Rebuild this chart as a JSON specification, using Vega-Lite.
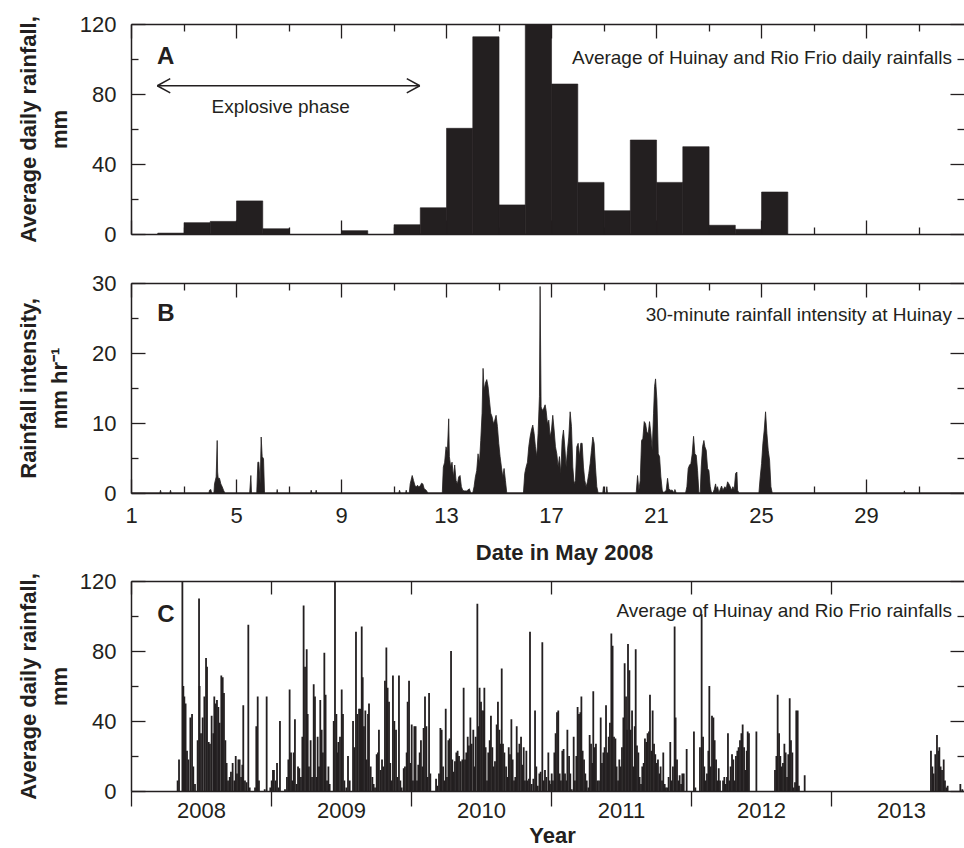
{
"$schema":"https://vega.github.io/schema/vega-lite/v6.json",
"background":"white",
"padding":{"left":16,"top":13,"right":0,"bottom":0},
"config":{"view":{"stroke":null},
"axis":{"grid":false,"domainColor":"#231f20","domainWidth":1.5,"tickColor":"#231f20","tickWidth":1.3,"labelColor":"#231f20","titleColor":"#231f20","labelFont":"Liberation Sans","labelFontSize":22,"titleFont":"Liberation Sans","titleFontSize":22,"titleFontWeight":"bold","labelOverlap":false,"labelFlush":false,"labelBound":false}},
"spacing":7,
"vconcat":[
{"spacing":27,"vconcat":[
{"width":833,"height":210,
"data":{"values":[{"day":2,"mm":0.5},{"day":3,"mm":6.5},{"day":4,"mm":7.2},{"day":5,"mm":18.9},{"day":6,"mm":3.0},{"day":9,"mm":1.9},{"day":11,"mm":5.3},{"day":12,"mm":15},{"day":13,"mm":60.4},{"day":14,"mm":112.7},{"day":15,"mm":16.6},{"day":16,"mm":130},{"day":17,"mm":85.7},{"day":18,"mm":29.5},{"day":19,"mm":13.3},{"day":20,"mm":53.7},{"day":21,"mm":29.5},{"day":22,"mm":49.9},{"day":23,"mm":5.0},{"day":24,"mm":2.7},{"day":25,"mm":24}]},
"resolve":{"axis":{"x":"independent","y":"independent"}},
"layer":[
{"mark":{"type":"bar","color":"#231f20","stroke":"#231f20","strokeWidth":0.6,"binSpacing":0,"clip":true},
"encoding":{"x":{"field":"day","type":"quantitative","bin":{"step":1,"extent":[1,33]},"scale":{"domain":[1,32.73],"nice":false,"zero":false},"axis":{"orient":"bottom","values":[1,5,9,13,17,21,25,29],"labels":false,"tickSize":-14,"title":null}},
"y":{"field":"mm","type":"quantitative","scale":{"domain":[0,120],"nice":false},"axis":{"orient":"left","values":[0,40,80,120],"tickSize":-14,"labelPadding":29,"title":["Average daily rainfall,","mm"],"titleX":-96,"titleY":105,"titleBaseline":"alphabetic","titleAlign":"center","titleAngle":-90,"titleLineHeight":31}}}},
{"mark":{"type":"point","opacity":0,"clip":true},
"encoding":{"x":{"field":"day","type":"quantitative","scale":{"domain":[1,32.73],"nice":false,"zero":false},"axis":{"orient":"top","values":[1,5,9,13,17,21,25,29],"labels":false,"tickSize":-14,"title":null}},
"y":{"field":"mm","type":"quantitative","scale":{"domain":[0,120],"nice":false},"axis":{"orient":"right","values":[0,40,80,120],"labels":false,"domain":false,"tickSize":-14,"title":null}}}},
{"mark":{"type":"point","opacity":0,"clip":true},
"encoding":{"x":{"field":"day","type":"quantitative","scale":{"domain":[1,32.73],"nice":false,"zero":false},"axis":{"orient":"bottom","values":[3,7,11,15,19,23,27,31],"labels":false,"domain":false,"tickSize":-7,"title":null}},
"y":{"field":"mm","type":"quantitative","scale":{"domain":[0,120],"nice":false},"axis":{"orient":"left","values":[20,60,100],"labels":false,"domain":false,"tickSize":-7,"title":null}}}},
{"mark":{"type":"point","opacity":0,"clip":true},
"encoding":{"x":{"field":"day","type":"quantitative","scale":{"domain":[1,32.73],"nice":false,"zero":false},"axis":{"orient":"top","values":[3,7,11,15,19,23,27,31],"labels":false,"domain":false,"tickSize":-7,"title":null}},
"y":{"field":"mm","type":"quantitative","scale":{"domain":[0,120],"nice":false},"axis":{"orient":"right","values":[20,60,100],"labels":false,"domain":false,"tickSize":-7,"title":null}}}},
{"data":{"values":[{"start":2,"end":12,"y":84.7}]},
"mark":{"type":"rule","color":"#231f20","strokeWidth":1.5},
"encoding":{"x":{"field":"start","type":"quantitative","scale":{"domain":[1,32.73],"nice":false,"zero":false},"axis":null},"x2":{"field":"end"},"y":{"field":"y","type":"quantitative","scale":{"domain":[0,120],"nice":false},"axis":null}}},
{"data":{"values":[{"x":2,"y":84.7,"dir":"left"},{"x":12,"y":84.7,"dir":"right"}]},
"mark":{"type":"point","filled":false,"stroke":"#231f20","strokeWidth":1.5,"size":676,"opacity":1},
"encoding":{"x":{"field":"x","type":"quantitative","scale":{"domain":[1,32.73],"nice":false,"zero":false},"axis":null},"y":{"field":"y","type":"quantitative","scale":{"domain":[0,120],"nice":false},"axis":null},
"shape":{"field":"dir","type":"nominal","scale":{"domain":["left","right"],"range":["M0,0L1,-0.55M0,0L1,0.55","M0,0L-1,-0.55M0,0L-1,0.55"]},"legend":null}}},
{"data":{"values":[{"x":1.99,"y":100.9,"label":"A"}]},
"mark":{"type":"text","font":"Liberation Sans","fontSize":24,"fontWeight":"bold","color":"#231f20","align":"left","baseline":"middle"},
"encoding":{"x":{"field":"x","type":"quantitative","scale":{"domain":[1,32.73],"nice":false,"zero":false},"axis":null},"y":{"field":"y","type":"quantitative","scale":{"domain":[0,120],"nice":false},"axis":null},"text":{"field":"label"}}},
{"data":{"values":[{"x":6.7,"y":72.6,"label":"Explosive phase"}]},
"mark":{"type":"text","font":"Liberation Sans","fontSize":19,"color":"#231f20","align":"center","baseline":"middle"},
"encoding":{"x":{"field":"x","type":"quantitative","scale":{"domain":[1,32.73],"nice":false,"zero":false},"axis":null},"y":{"field":"y","type":"quantitative","scale":{"domain":[0,120],"nice":false},"axis":null},"text":{"field":"label"}}},
{"data":{"values":[{"x":32.27,"y":100.5,"label":"Average of Huinay and Rio Frio daily rainfalls"}]},
"mark":{"type":"text","font":"Liberation Sans","fontSize":19,"color":"#231f20","align":"right","baseline":"middle"},
"encoding":{"x":{"field":"x","type":"quantitative","scale":{"domain":[1,32.73],"nice":false,"zero":false},"axis":null},"y":{"field":"y","type":"quantitative","scale":{"domain":[0,120],"nice":false},"axis":null},"text":{"field":"label"}}}
]},
{"width":833,"height":210,
"data":{"values":[{"day":1,"v":0},{"day":2.1,"v":0},{"day":2.124,"v":0.4},{"day":2.15,"v":0},{"day":2.48,"v":0},{"day":2.505,"v":0.4},{"day":2.53,"v":0},{"day":3.97,"v":0},{"day":3.99,"v":0.4},{"day":4.04,"v":0.5},{"day":4.07,"v":0},{"day":4.16,"v":0},{"day":4.181,"v":1.3},{"day":4.244,"v":2.3},{"day":4.283,"v":7.5},{"day":4.3,"v":3.0},{"day":4.321,"v":2.1},{"day":4.371,"v":2.1},{"day":4.422,"v":1.3},{"day":4.473,"v":0.9},{"day":4.524,"v":0.4},{"day":4.575,"v":0},{"day":5.52,"v":0},{"day":5.565,"v":2.5},{"day":5.59,"v":0},{"day":5.79,"v":0},{"day":5.832,"v":4.4},{"day":5.87,"v":4.4},{"day":5.921,"v":1.3},{"day":5.959,"v":8.0},{"day":5.997,"v":5.2},{"day":6.048,"v":4.9},{"day":6.086,"v":0},{"day":6.55,"v":0},{"day":6.568,"v":0.5},{"day":6.59,"v":0},{"day":7.84,"v":0},{"day":7.863,"v":0.4},{"day":7.89,"v":0},{"day":8.03,"v":0},{"day":8.054,"v":0.4},{"day":8.08,"v":0},{"day":11.2,"v":0},{"day":11.229,"v":0.4},{"day":11.26,"v":0},{"day":11.46,"v":0},{"day":11.483,"v":0.4},{"day":11.51,"v":0},{"day":11.6,"v":0},{"day":11.635,"v":1.3},{"day":11.711,"v":2.5},{"day":11.762,"v":1.8},{"day":11.813,"v":1.1},{"day":11.863,"v":0.9},{"day":11.914,"v":1.1},{"day":11.965,"v":0.9},{"day":12.016,"v":1.0},{"day":12.067,"v":1.4},{"day":12.117,"v":1.3},{"day":12.168,"v":0.6},{"day":12.244,"v":0.4},{"day":12.308,"v":0},
{"day":12.858,"v":0},{"day":12.897,"v":3.7},{"day":12.948,"v":4.4},{"day":13.0,"v":6.6},{"day":13.051,"v":5.9},{"day":13.102,"v":10.6},{"day":13.127,"v":5.2},{"day":13.178,"v":3.7},{"day":13.229,"v":4.4},{"day":13.28,"v":2.3},{"day":13.33,"v":4.0},{"day":13.381,"v":1.8},{"day":13.432,"v":1.3},{"day":13.483,"v":2.3},{"day":13.534,"v":2.5},{"day":13.584,"v":0.9},{"day":13.635,"v":0.4},{"day":13.686,"v":0.3},{"day":13.788,"v":0.3},{"day":13.89,"v":0.6},{"day":13.94,"v":0},
{"day":14.017,"v":0},{"day":14.068,"v":0.9},{"day":14.118,"v":2.3},{"day":14.169,"v":3.2},{"day":14.22,"v":5.6},{"day":14.271,"v":4.2},{"day":14.322,"v":7.5},{"day":14.373,"v":11.4},{"day":14.411,"v":17.8},{"day":14.449,"v":14.7},{"day":14.5,"v":15.7},{"day":14.551,"v":16.2},{"day":14.601,"v":15.2},{"day":14.652,"v":13.3},{"day":14.703,"v":11.4},{"day":14.754,"v":10.9},{"day":14.805,"v":9.9},{"day":14.856,"v":10.4},{"day":14.906,"v":11.1},{"day":14.957,"v":9.5},{"day":15.008,"v":7.1},{"day":15.059,"v":5.2},{"day":15.11,"v":3.7},{"day":15.16,"v":2.3},{"day":15.211,"v":3.5},{"day":15.262,"v":1.8},{"day":15.313,"v":0},
{"day":15.948,"v":0},{"day":15.999,"v":2.8},{"day":16.05,"v":3.7},{"day":16.101,"v":4.4},{"day":16.151,"v":6.6},{"day":16.202,"v":8.0},{"day":16.253,"v":9.0},{"day":16.304,"v":9.7},{"day":16.355,"v":8.5},{"day":16.405,"v":6.6},{"day":16.456,"v":5.2},{"day":16.507,"v":8.5},{"day":16.558,"v":13.8},{"day":16.583,"v":29.5},{"day":16.621,"v":12.3},{"day":16.672,"v":11.8},{"day":16.723,"v":12.1},{"day":16.774,"v":12.6},{"day":16.812,"v":11.8},{"day":16.863,"v":9.9},{"day":16.914,"v":10.4},{"day":16.965,"v":8.0},{"day":17.016,"v":9.0},{"day":17.066,"v":11.1},{"day":17.117,"v":9.0},{"day":17.168,"v":6.6},{"day":17.219,"v":5.6},{"day":17.27,"v":3.7},{"day":17.32,"v":5.2},{"day":17.371,"v":2.8},{"day":17.422,"v":7.5},{"day":17.473,"v":9.0},{"day":17.524,"v":6.6},{"day":17.574,"v":3.7},{"day":17.625,"v":6.1},{"day":17.676,"v":8.0},{"day":17.727,"v":11.6},{"day":17.778,"v":9.5},{"day":17.829,"v":3.7},{"day":17.879,"v":1.3},{"day":17.93,"v":1.8},{"day":17.981,"v":6.6},{"day":18.032,"v":7.1},{"day":18.083,"v":5.2},{"day":18.133,"v":7.1},{"day":18.184,"v":7.1},{"day":18.235,"v":3.7},{"day":18.286,"v":1.8},{"day":18.337,"v":0.9},{"day":18.387,"v":1.6},{"day":18.438,"v":2.8},{"day":18.489,"v":4.2},{"day":18.54,"v":6.1},{"day":18.591,"v":8.0},{"day":18.641,"v":7.1},{"day":18.692,"v":3.7},{"day":18.743,"v":0.9},{"day":18.794,"v":0},
{"day":18.97,"v":0},{"day":18.997,"v":0.9},{"day":19.02,"v":0},{"day":19.1,"v":0},{"day":19.124,"v":0.9},{"day":19.15,"v":0},
{"day":20.244,"v":0},{"day":20.295,"v":2.5},{"day":20.346,"v":0.4},{"day":20.397,"v":1.8},{"day":20.448,"v":7.5},{"day":20.498,"v":7.8},{"day":20.549,"v":10.2},{"day":20.6,"v":9.9},{"day":20.651,"v":8.7},{"day":20.702,"v":8.5},{"day":20.752,"v":10.2},{"day":20.803,"v":8.5},{"day":20.854,"v":6.1},{"day":20.905,"v":11.4},{"day":20.943,"v":15.2},{"day":20.981,"v":16.3},{"day":21.032,"v":13.3},{"day":21.083,"v":5.6},{"day":21.133,"v":5.2},{"day":21.184,"v":2.3},{"day":21.235,"v":0.4},{"day":21.286,"v":0},{"day":21.387,"v":0.4},{"day":21.438,"v":2.1},{"day":21.489,"v":0.6},{"day":21.54,"v":0.4},{"day":21.616,"v":0.4},{"day":21.692,"v":0},{"day":21.717,"v":0.5},{"day":21.768,"v":0},
{"day":22.124,"v":0},{"day":22.175,"v":0.9},{"day":22.225,"v":3.5},{"day":22.276,"v":4.0},{"day":22.327,"v":4.2},{"day":22.378,"v":5.6},{"day":22.429,"v":8.1},{"day":22.479,"v":5.6},{"day":22.53,"v":5.4},{"day":22.581,"v":3.2},{"day":22.632,"v":0},{"day":22.683,"v":0},{"day":22.721,"v":3.7},{"day":22.771,"v":6.6},{"day":22.822,"v":7.5},{"day":22.86,"v":6.6},{"day":22.911,"v":6.1},{"day":22.962,"v":3.5},{"day":23.013,"v":3.2},{"day":23.063,"v":0.9},{"day":23.114,"v":0},{"day":23.165,"v":0},{"day":23.216,"v":0.5},{"day":23.267,"v":1.3},{"day":23.305,"v":0.5},{"day":23.343,"v":0.9},{"day":23.394,"v":0},{"day":23.495,"v":1.0},{"day":23.546,"v":0.4},{"day":23.622,"v":0.9},{"day":23.673,"v":0.6},{"day":23.724,"v":1.6},{"day":23.775,"v":1.3},{"day":23.825,"v":0.9},{"day":23.876,"v":0.4},{"day":23.927,"v":0.9},{"day":23.978,"v":0.5},{"day":24.029,"v":2.8},{"day":24.079,"v":3.0},{"day":24.105,"v":0.4},{"day":24.156,"v":0},
{"day":24.918,"v":0},{"day":24.968,"v":2.3},{"day":25.019,"v":4.2},{"day":25.07,"v":7.1},{"day":25.121,"v":9.0},{"day":25.171,"v":11.6},{"day":25.222,"v":8.5},{"day":25.273,"v":6.1},{"day":25.324,"v":4.7},{"day":25.375,"v":0.9},{"day":25.425,"v":0},{"day":30.44,"v":0},{"day":30.46,"v":0.3},{"day":30.48,"v":0},{"day":32.73,"v":0}]},
"resolve":{"axis":{"x":"independent","y":"independent"}},
"layer":[
{"mark":{"type":"area","color":"#231f20","stroke":"#231f20","strokeWidth":0.8,"interpolate":"linear","clip":true},
"encoding":{"x":{"field":"day","type":"quantitative","scale":{"domain":[1,32.73],"nice":false,"zero":false},"axis":{"orient":"bottom","values":[1,5,9,13,17,21,25,29],"tickSize":-14,"labelPadding":26,"title":"Date in May 2008","titleX":433,"titleY":66,"titleBaseline":"alphabetic","titleAlign":"center"}},
"y":{"field":"v","type":"quantitative","scale":{"domain":[0,30],"nice":false},"axis":{"orient":"left","values":[0,10,20,30],"tickSize":-14,"labelPadding":29,"title":["Rainfall intensity,","mm hr⁻¹"],"titleX":-96,"titleY":105,"titleBaseline":"alphabetic","titleAlign":"center","titleAngle":-90,"titleLineHeight":31}}}},
{"mark":{"type":"point","opacity":0,"clip":true},
"encoding":{"x":{"field":"day","type":"quantitative","scale":{"domain":[1,32.73],"nice":false,"zero":false},"axis":{"orient":"top","values":[1,5,9,13,17,21,25,29],"labels":false,"tickSize":-14,"title":null}},
"y":{"field":"v","type":"quantitative","scale":{"domain":[0,30],"nice":false},"axis":{"orient":"right","values":[0,10,20,30],"labels":false,"domain":false,"tickSize":-14,"title":null}}}},
{"mark":{"type":"point","opacity":0,"clip":true},
"encoding":{"x":{"field":"day","type":"quantitative","scale":{"domain":[1,32.73],"nice":false,"zero":false},"axis":{"orient":"bottom","values":[3,7,11,15,19,23,27,31],"labels":false,"domain":false,"tickSize":-7,"title":null}},
"y":{"field":"v","type":"quantitative","scale":{"domain":[0,30],"nice":false},"axis":{"orient":"left","values":[5,15,25],"labels":false,"domain":false,"tickSize":-7,"title":null}}}},
{"mark":{"type":"point","opacity":0,"clip":true},
"encoding":{"x":{"field":"day","type":"quantitative","scale":{"domain":[1,32.73],"nice":false,"zero":false},"axis":{"orient":"top","values":[3,7,11,15,19,23,27,31],"labels":false,"domain":false,"tickSize":-7,"title":null}},
"y":{"field":"v","type":"quantitative","scale":{"domain":[0,30],"nice":false},"axis":{"orient":"right","values":[5,15,25],"labels":false,"domain":false,"tickSize":-7,"title":null}}}},
{"data":{"values":[{"x":2.0,"y":25.6,"label":"B"}]},
"mark":{"type":"text","font":"Liberation Sans","fontSize":24,"fontWeight":"bold","color":"#231f20","align":"left","baseline":"middle"},
"encoding":{"x":{"field":"x","type":"quantitative","scale":{"domain":[1,32.73],"nice":false,"zero":false},"axis":null},"y":{"field":"y","type":"quantitative","scale":{"domain":[0,30],"nice":false},"axis":null},"text":{"field":"label"}}},
{"data":{"values":[{"x":32.27,"y":25.5,"label":"30-minute rainfall intensity at Huinay"}]},
"mark":{"type":"text","font":"Liberation Sans","fontSize":19,"color":"#231f20","align":"right","baseline":"middle"},
"encoding":{"x":{"field":"x","type":"quantitative","scale":{"domain":[1,32.73],"nice":false,"zero":false},"axis":null},"y":{"field":"y","type":"quantitative","scale":{"domain":[0,30],"nice":false},"axis":null},"text":{"field":"label"}}}
]}
]},
{"width":833,"height":210,
"data":{"values":[
{"t":2008.333,"mm":6},{"t":2008.343,"mm":18},{"t":2008.367,"mm":125},{"t":2008.374,"mm":60},{"t":2008.381,"mm":54},{"t":2008.39,"mm":50},{"t":2008.4,"mm":23},{"t":2008.41,"mm":18},{"t":2008.424,"mm":42},{"t":2008.436,"mm":44},{"t":2008.445,"mm":14},{"t":2008.457,"mm":4},{"t":2008.476,"mm":29},{"t":2008.486,"mm":110},{"t":2008.49,"mm":60},{"t":2008.5,"mm":33},{"t":2008.512,"mm":42},{"t":2008.524,"mm":54},{"t":2008.536,"mm":76},{"t":2008.543,"mm":71},{"t":2008.555,"mm":28},{"t":2008.564,"mm":27},{"t":2008.576,"mm":43},{"t":2008.588,"mm":33},{"t":2008.595,"mm":54},{"t":2008.605,"mm":50},{"t":2008.614,"mm":52},{"t":2008.624,"mm":48},{"t":2008.633,"mm":39},{"t":2008.645,"mm":66},{"t":2008.655,"mm":65},{"t":2008.664,"mm":56},{"t":2008.674,"mm":29},{"t":2008.683,"mm":16},{"t":2008.693,"mm":6},{"t":2008.705,"mm":8},{"t":2008.714,"mm":11},{"t":2008.726,"mm":16},{"t":2008.738,"mm":6},{"t":2008.748,"mm":20},{"t":2008.757,"mm":10},{"t":2008.767,"mm":18},{"t":2008.776,"mm":18},{"t":2008.786,"mm":8},{"t":2008.795,"mm":15},{"t":2008.802,"mm":49},{"t":2008.814,"mm":6},{"t":2008.826,"mm":5},{"t":2008.838,"mm":95},{"t":2008.848,"mm":2},{"t":2008.886,"mm":2},{"t":2008.895,"mm":37},{"t":2008.905,"mm":54},{"t":2008.914,"mm":6},{"t":2008.955,"mm":1},{"t":2008.969,"mm":54},{"t":2008.995,"mm":2},
{"t":2009.005,"mm":6},{"t":2009.014,"mm":12},{"t":2009.021,"mm":12},{"t":2009.033,"mm":6},{"t":2009.043,"mm":16},{"t":2009.055,"mm":2},{"t":2009.064,"mm":40},{"t":2009.1,"mm":1},{"t":2009.114,"mm":8},{"t":2009.124,"mm":18},{"t":2009.133,"mm":58},{"t":2009.143,"mm":22},{"t":2009.152,"mm":6},{"t":2009.162,"mm":22},{"t":2009.171,"mm":41},{"t":2009.183,"mm":4},{"t":2009.193,"mm":14},{"t":2009.202,"mm":13},{"t":2009.214,"mm":8},{"t":2009.224,"mm":31},{"t":2009.233,"mm":106},{"t":2009.243,"mm":71},{"t":2009.255,"mm":81},{"t":2009.262,"mm":44},{"t":2009.271,"mm":14},{"t":2009.283,"mm":29},{"t":2009.293,"mm":8},{"t":2009.305,"mm":61},{"t":2009.314,"mm":54},{"t":2009.324,"mm":8},{"t":2009.333,"mm":31},{"t":2009.343,"mm":14},{"t":2009.352,"mm":52},{"t":2009.362,"mm":35},{"t":2009.371,"mm":22},{"t":2009.381,"mm":79},{"t":2009.39,"mm":55},{"t":2009.4,"mm":6},{"t":2009.41,"mm":14},{"t":2009.419,"mm":4},{"t":2009.448,"mm":40},{"t":2009.457,"mm":122},{"t":2009.467,"mm":44},{"t":2009.476,"mm":22},
{"t":2009.481,"mm":28},{"t":2009.493,"mm":31},{"t":2009.505,"mm":58},{"t":2009.514,"mm":44},{"t":2009.524,"mm":6},{"t":2009.538,"mm":2},{"t":2009.55,"mm":20},{"t":2009.562,"mm":6},{"t":2009.586,"mm":40},{"t":2009.595,"mm":25},{"t":2009.607,"mm":91},{"t":2009.617,"mm":44},{"t":2009.629,"mm":47},{"t":2009.638,"mm":47},{"t":2009.648,"mm":94},{"t":2009.655,"mm":65},{"t":2009.664,"mm":37},{"t":2009.674,"mm":46},{"t":2009.683,"mm":18},{"t":2009.693,"mm":44},{"t":2009.7,"mm":50},{"t":2009.712,"mm":14},{"t":2009.724,"mm":8},{"t":2009.733,"mm":4},{"t":2009.743,"mm":2},{"t":2009.755,"mm":21},{"t":2009.764,"mm":22},{"t":2009.771,"mm":35},{"t":2009.783,"mm":12},{"t":2009.793,"mm":18},{"t":2009.802,"mm":14},{"t":2009.814,"mm":63},{"t":2009.824,"mm":82},{"t":2009.833,"mm":59},{"t":2009.843,"mm":51},{"t":2009.852,"mm":16},{"t":2009.862,"mm":6},{"t":2009.871,"mm":66},{"t":2009.881,"mm":40},{"t":2009.893,"mm":35},{"t":2009.902,"mm":8},{"t":2009.914,"mm":66},{"t":2009.924,"mm":6},{"t":2009.933,"mm":2},{"t":2009.948,"mm":13},{"t":2009.957,"mm":14},{"t":2009.969,"mm":22},{"t":2009.976,"mm":51},{"t":2009.986,"mm":63},{"t":2009.995,"mm":16},
{"t":2010.005,"mm":38},{"t":2010.014,"mm":6},{"t":2010.024,"mm":37},{"t":2010.033,"mm":37},{"t":2010.043,"mm":6},{"t":2010.052,"mm":15},{"t":2010.062,"mm":22},{"t":2010.071,"mm":29},{"t":2010.081,"mm":14},{"t":2010.09,"mm":36},{"t":2010.1,"mm":54},{"t":2010.11,"mm":37},{"t":2010.119,"mm":8},{"t":2010.129,"mm":56},{"t":2010.138,"mm":10},{"t":2010.179,"mm":7},{"t":2010.188,"mm":3},{"t":2010.2,"mm":10},{"t":2010.21,"mm":36},{"t":2010.219,"mm":35},{"t":2010.229,"mm":14},{"t":2010.238,"mm":6},{"t":2010.248,"mm":47},{"t":2010.257,"mm":8},{"t":2010.267,"mm":29},{"t":2010.276,"mm":30},{"t":2010.286,"mm":80},{"t":2010.295,"mm":18},{"t":2010.305,"mm":11},{"t":2010.314,"mm":17},{"t":2010.324,"mm":22},{"t":2010.333,"mm":23},{"t":2010.343,"mm":20},{"t":2010.355,"mm":17},{"t":2010.367,"mm":18},{"t":2010.376,"mm":59},{"t":2010.386,"mm":18},{"t":2010.395,"mm":22},{"t":2010.405,"mm":31},{"t":2010.414,"mm":26},{"t":2010.424,"mm":42},{"t":2010.433,"mm":27},{"t":2010.445,"mm":35},{"t":2010.455,"mm":14},{"t":2010.462,"mm":31},{"t":2010.474,"mm":107},{"t":2010.481,"mm":37},{"t":2010.49,"mm":59},{"t":2010.5,"mm":51},{"t":2010.507,"mm":46},{"t":2010.517,"mm":46},{"t":2010.524,"mm":59},{"t":2010.533,"mm":25},{"t":2010.543,"mm":6},{"t":2010.552,"mm":22},{"t":2010.562,"mm":29},{"t":2010.571,"mm":43},{"t":2010.581,"mm":25},{"t":2010.59,"mm":14},{"t":2010.6,"mm":17},{"t":2010.612,"mm":38},{"t":2010.621,"mm":51},{"t":2010.631,"mm":35},{"t":2010.64,"mm":27},{"t":2010.648,"mm":70},{"t":2010.657,"mm":27},{"t":2010.667,"mm":22},{"t":2010.679,"mm":14},{"t":2010.688,"mm":8},{"t":2010.698,"mm":25},{"t":2010.707,"mm":21},{"t":2010.717,"mm":41},{"t":2010.726,"mm":18},{"t":2010.736,"mm":6},{"t":2010.745,"mm":8},{"t":2010.755,"mm":37},{"t":2010.764,"mm":22},{"t":2010.774,"mm":27},{"t":2010.786,"mm":31},{"t":2010.795,"mm":15},{"t":2010.805,"mm":25},{"t":2010.814,"mm":6},{"t":2010.824,"mm":23},{"t":2010.833,"mm":6},{"t":2010.843,"mm":7},{"t":2010.85,"mm":91},{"t":2010.862,"mm":4},{"t":2010.874,"mm":7},{"t":2010.886,"mm":46},{"t":2010.895,"mm":14},{"t":2010.905,"mm":3},{"t":2010.917,"mm":10},{"t":2010.926,"mm":11},{"t":2010.938,"mm":85},{"t":2010.948,"mm":6},{"t":2010.957,"mm":12},{"t":2010.967,"mm":8},{"t":2010.981,"mm":22},{"t":2010.99,"mm":6},{"t":2010.993,"mm":4},
{"t":2011.005,"mm":10},{"t":2011.014,"mm":6},{"t":2011.024,"mm":22},{"t":2011.033,"mm":33},{"t":2011.043,"mm":45},{"t":2011.052,"mm":46},{"t":2011.062,"mm":10},{"t":2011.071,"mm":6},{"t":2011.081,"mm":23},{"t":2011.09,"mm":24},{"t":2011.1,"mm":10},{"t":2011.11,"mm":6},{"t":2011.117,"mm":35},{"t":2011.129,"mm":20},{"t":2011.138,"mm":10},{"t":2011.148,"mm":1},{"t":2011.162,"mm":31},{"t":2011.171,"mm":6},{"t":2011.181,"mm":20},{"t":2011.19,"mm":48},{"t":2011.2,"mm":44},{"t":2011.21,"mm":45},{"t":2011.217,"mm":54},{"t":2011.226,"mm":23},{"t":2011.236,"mm":18},{"t":2011.245,"mm":10},{"t":2011.255,"mm":6},{"t":2011.267,"mm":2},{"t":2011.276,"mm":32},{"t":2011.286,"mm":27},{"t":2011.295,"mm":16},{"t":2011.302,"mm":57},{"t":2011.312,"mm":25},{"t":2011.321,"mm":27},{"t":2011.331,"mm":6},{"t":2011.343,"mm":6},{"t":2011.355,"mm":42},{"t":2011.364,"mm":16},{"t":2011.374,"mm":22},{"t":2011.383,"mm":25},{"t":2011.393,"mm":49},{"t":2011.402,"mm":22},{"t":2011.412,"mm":31},{"t":2011.421,"mm":39},{"t":2011.431,"mm":90},{"t":2011.44,"mm":83},{"t":2011.45,"mm":31},{"t":2011.46,"mm":30},{"t":2011.469,"mm":14},{"t":2011.479,"mm":6},{"t":2011.488,"mm":18},{"t":2011.498,"mm":14},{"t":2011.507,"mm":25},{"t":2011.517,"mm":42},{"t":2011.526,"mm":73},{"t":2011.536,"mm":54},{"t":2011.543,"mm":35},{"t":2011.55,"mm":84},{"t":2011.56,"mm":69},{"t":2011.569,"mm":35},{"t":2011.579,"mm":46},{"t":2011.588,"mm":14},{"t":2011.598,"mm":37},{"t":2011.605,"mm":81},{"t":2011.614,"mm":26},{"t":2011.624,"mm":22},{"t":2011.633,"mm":8},{"t":2011.643,"mm":4},{"t":2011.652,"mm":14},{"t":2011.662,"mm":16},{"t":2011.671,"mm":30},{"t":2011.681,"mm":28},{"t":2011.69,"mm":33},{"t":2011.7,"mm":34},{"t":2011.707,"mm":55},{"t":2011.717,"mm":23},{"t":2011.726,"mm":46},{"t":2011.736,"mm":27},{"t":2011.745,"mm":21},{"t":2011.755,"mm":16},{"t":2011.764,"mm":18},{"t":2011.774,"mm":10},{"t":2011.783,"mm":14},{"t":2011.793,"mm":6},{"t":2011.802,"mm":22},{"t":2011.812,"mm":4},{"t":2011.821,"mm":2},{"t":2011.831,"mm":2},{"t":2011.84,"mm":8},{"t":2011.852,"mm":28},{"t":2011.862,"mm":6},{"t":2011.871,"mm":14},{"t":2011.883,"mm":94},{"t":2011.89,"mm":42},{"t":2011.9,"mm":18},{"t":2011.91,"mm":6},{"t":2011.919,"mm":9},{"t":2011.929,"mm":4},{"t":2011.938,"mm":10},{"t":2011.948,"mm":10},{"t":2011.969,"mm":24},
{"t":2012.021,"mm":34},{"t":2012.031,"mm":2},{"t":2012.064,"mm":25},{"t":2012.076,"mm":101},{"t":2012.086,"mm":31},{"t":2012.095,"mm":14},{"t":2012.105,"mm":6},{"t":2012.114,"mm":10},{"t":2012.124,"mm":23},{"t":2012.131,"mm":60},{"t":2012.14,"mm":14},{"t":2012.15,"mm":43},{"t":2012.16,"mm":42},{"t":2012.169,"mm":29},{"t":2012.179,"mm":18},{"t":2012.188,"mm":6},{"t":2012.198,"mm":13},{"t":2012.207,"mm":6},{"t":2012.229,"mm":6},{"t":2012.238,"mm":8},{"t":2012.248,"mm":4},{"t":2012.257,"mm":8},{"t":2012.264,"mm":33},{"t":2012.274,"mm":6},{"t":2012.283,"mm":14},{"t":2012.293,"mm":21},{"t":2012.302,"mm":18},{"t":2012.312,"mm":6},{"t":2012.321,"mm":20},{"t":2012.331,"mm":23},{"t":2012.34,"mm":25},{"t":2012.35,"mm":29},{"t":2012.36,"mm":33},{"t":2012.369,"mm":38},{"t":2012.379,"mm":25},{"t":2012.388,"mm":12},{"t":2012.398,"mm":23},{"t":2012.405,"mm":34},{"t":2012.414,"mm":33},{"t":2012.467,"mm":34},
{"t":2012.6,"mm":12},{"t":2012.61,"mm":20},{"t":2012.619,"mm":55},{"t":2012.629,"mm":33},{"t":2012.638,"mm":20},{"t":2012.648,"mm":14},{"t":2012.657,"mm":16},{"t":2012.667,"mm":27},{"t":2012.676,"mm":22},{"t":2012.686,"mm":8},{"t":2012.695,"mm":21},{"t":2012.705,"mm":53},{"t":2012.714,"mm":29},{"t":2012.724,"mm":22},{"t":2012.733,"mm":2},{"t":2012.743,"mm":5},{"t":2012.752,"mm":46},{"t":2012.762,"mm":46},{"t":2012.771,"mm":3},{"t":2012.812,"mm":9},
{"t":2013.714,"mm":23},{"t":2013.724,"mm":14},{"t":2013.733,"mm":10},{"t":2013.745,"mm":21},{"t":2013.757,"mm":32},{"t":2013.767,"mm":23},{"t":2013.774,"mm":25},{"t":2013.783,"mm":14},{"t":2013.793,"mm":12},{"t":2013.805,"mm":18},{"t":2013.814,"mm":6},{"t":2013.824,"mm":2},{"t":2013.833,"mm":3},{"t":2013.924,"mm":4},{"t":2013.938,"mm":1}
]},
"resolve":{"axis":{"x":"independent","y":"independent"}},
"layer":[
{"mark":{"type":"rule","color":"#231f20","strokeWidth":1.8,"clip":true},
"encoding":{"x":{"field":"t","type":"quantitative","scale":{"domain":[2008,2013.95],"nice":false,"zero":false},"axis":{"orient":"bottom","values":[2008,2009,2010,2011,2012,2013],"format":"d","tickSize":15,"labelOffset":70,"labelPadding":-6,"title":"Year","titleX":421,"titleY":51,"titleBaseline":"alphabetic","titleAlign":"center"}},
"y":{"field":"mm","type":"quantitative","scale":{"domain":[0,120],"nice":false},"axis":{"orient":"left","values":[0,40,80,120],"tickSize":-14,"labelPadding":29,"title":["Average daily rainfall,","mm"],"titleX":-96,"titleY":105,"titleBaseline":"alphabetic","titleAlign":"center","titleAngle":-90,"titleLineHeight":31}},
"y2":{"datum":0}}},
{"mark":{"type":"point","opacity":0,"clip":true},
"encoding":{"x":{"field":"t","type":"quantitative","scale":{"domain":[2008,2013.95],"nice":false,"zero":false},"axis":{"orient":"top","values":[2008,2009,2010,2011,2012,2013],"labels":false,"tickSize":-13,"title":null}},
"y":{"field":"mm","type":"quantitative","scale":{"domain":[0,120],"nice":false},"axis":{"orient":"right","values":[0,40,80,120],"labels":false,"domain":false,"tickSize":-14,"title":null}}}},
{"mark":{"type":"point","opacity":0,"clip":true},
"encoding":{"x":{"field":"t","type":"quantitative","scale":{"domain":[2008,2013.95],"nice":false,"zero":false},"axis":null},
"y":{"field":"mm","type":"quantitative","scale":{"domain":[0,120],"nice":false},"axis":{"orient":"left","values":[20,60,100],"labels":false,"domain":false,"tickSize":-7,"title":null}}}},
{"mark":{"type":"point","opacity":0,"clip":true},
"encoding":{"x":{"field":"t","type":"quantitative","scale":{"domain":[2008,2013.95],"nice":false,"zero":false},"axis":null},
"y":{"field":"mm","type":"quantitative","scale":{"domain":[0,120],"nice":false},"axis":{"orient":"right","values":[20,60,100],"labels":false,"domain":false,"tickSize":-7,"title":null}}}},
{"data":{"values":[{"x":2008.188,"y":100.5,"label":"C"}]},
"mark":{"type":"text","font":"Liberation Sans","fontSize":24,"fontWeight":"bold","color":"#231f20","align":"left","baseline":"middle"},
"encoding":{"x":{"field":"x","type":"quantitative","scale":{"domain":[2008,2013.95],"nice":false,"zero":false},"axis":null},"y":{"field":"y","type":"quantitative","scale":{"domain":[0,120],"nice":false},"axis":null},"text":{"field":"label"}}},
{"data":{"values":[{"x":2013.864,"y":103,"label":"Average of Huinay and Rio Frio rainfalls"}]},
"mark":{"type":"text","font":"Liberation Sans","fontSize":19,"color":"#231f20","align":"right","baseline":"middle"},
"encoding":{"x":{"field":"x","type":"quantitative","scale":{"domain":[2008,2013.95],"nice":false,"zero":false},"axis":null},"y":{"field":"y","type":"quantitative","scale":{"domain":[0,120],"nice":false},"axis":null},"text":{"field":"label"}}}
]}
]}
